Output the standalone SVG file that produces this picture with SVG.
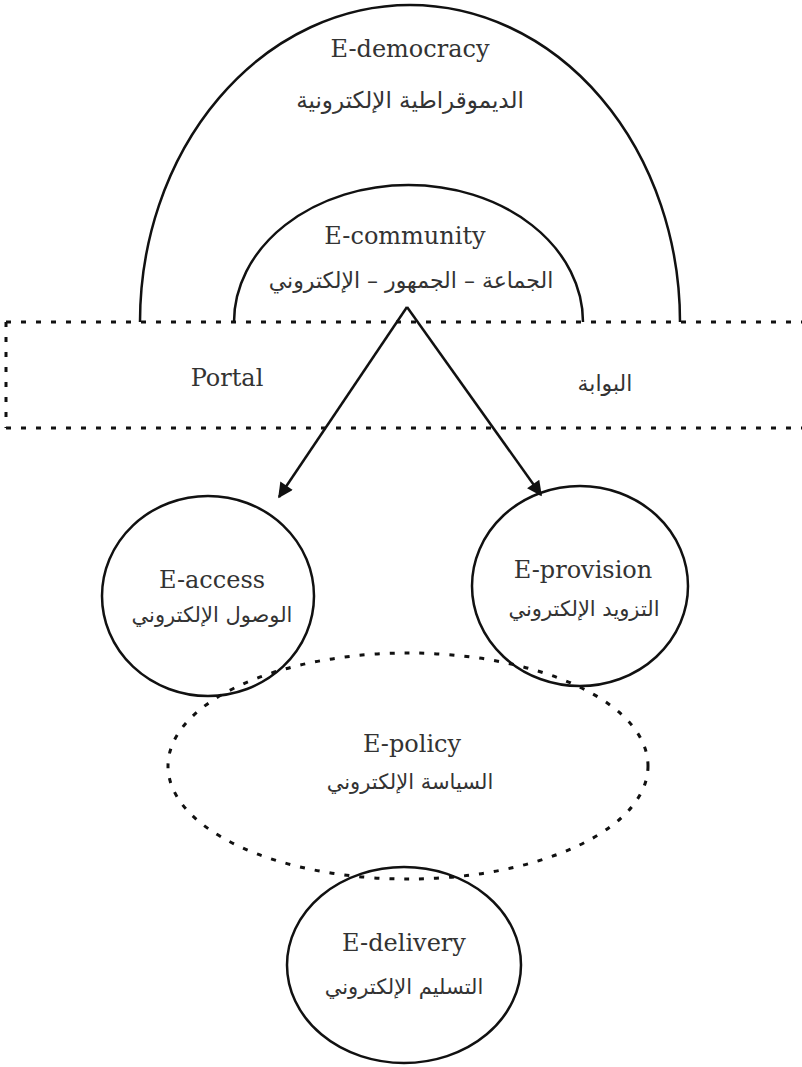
<svg xmlns="http://www.w3.org/2000/svg" width="802" height="1067" viewBox="0 0 802 1067">
  <style>
    .solid { fill: none; stroke: #111; stroke-width: 2.5; }
    .dotted { fill: none; stroke: #111; stroke-width: 3; stroke-dasharray: 5 10; }
    .en { font-family: "DejaVu Serif", "Liberation Serif", serif; font-size: 24px; fill: #333; text-anchor: middle; }
    .ar { font-family: "DejaVu Sans", "Noto Sans", sans-serif; font-size: 22px; fill: #333; text-anchor: middle; direction: rtl; }
    .ar.small { font-size: 21px; }
    .arrow { fill: none; stroke: #111; stroke-width: 2.5; marker-end: url(#head); }
  </style>
  <defs>
    <marker id="head" viewBox="0 0 10 10" refX="9" refY="5" markerWidth="17" markerHeight="15" orient="auto" markerUnits="userSpaceOnUse">
      <path d="M0,0 L10,5 L0,10 z" fill="#111"/>
    </marker>
  </defs>
  <rect width="802" height="1067" fill="#fff"/>

  <g id="e-democracy">
    <path class="solid" d="M140,322 A270,317 0 0 1 680,322"/>
    <text class="en" x="410" y="57">E-democracy</text>
    <text class="ar" x="410" y="108" style="font-size:23px">الديموقراطية الإلكترونية</text>
  </g>

  <g id="e-community">
    <path class="solid" d="M234,322 A174.5,137 0 0 1 583,322"/>
    <text class="en" x="405" y="244">E-community</text>
    <text class="ar" x="411" y="288">الجماعة – الجمهور – الإلكتروني</text>
  </g>

  <g id="portal">
    <path class="dotted" d="M6,322 H802 M6,428 H802 M6,322 V428"/>
    <text class="en" x="227" y="386">Portal</text>
    <text class="ar" x="605" y="391">البوابة</text>
  </g>

  <g id="e-access">
    <ellipse class="solid" cx="208" cy="596" rx="106" ry="100"/>
    <text class="en" x="212" y="588">E-access</text>
    <text class="ar small" x="212" y="622">الوصول الإلكتروني</text>
  </g>

  <g id="e-provision">
    <ellipse class="solid" cx="580" cy="586" rx="108" ry="100"/>
    <text class="en" x="583" y="578">E-provision</text>
    <text class="ar small" x="584" y="616">التزويد الإلكتروني</text>
  </g>

  <g id="e-policy">
    <ellipse class="dotted" cx="408" cy="766" rx="240" ry="113"/>
    <text class="en" x="412" y="752">E-policy</text>
    <text class="ar small" x="410" y="789">السياسة الإلكتروني</text>
  </g>

  <g id="e-delivery">
    <ellipse class="solid" cx="404" cy="965" rx="117" ry="98"/>
    <text class="en" x="404" y="951">E-delivery</text>
    <text class="ar small" x="404" y="994">التسليم الإلكتروني</text>
  </g>

  <g id="connectors">
    <path class="arrow" d="M407,307 L279,497"/>
    <path class="arrow" d="M407,307 L541,495"/>
  </g>
</svg>
